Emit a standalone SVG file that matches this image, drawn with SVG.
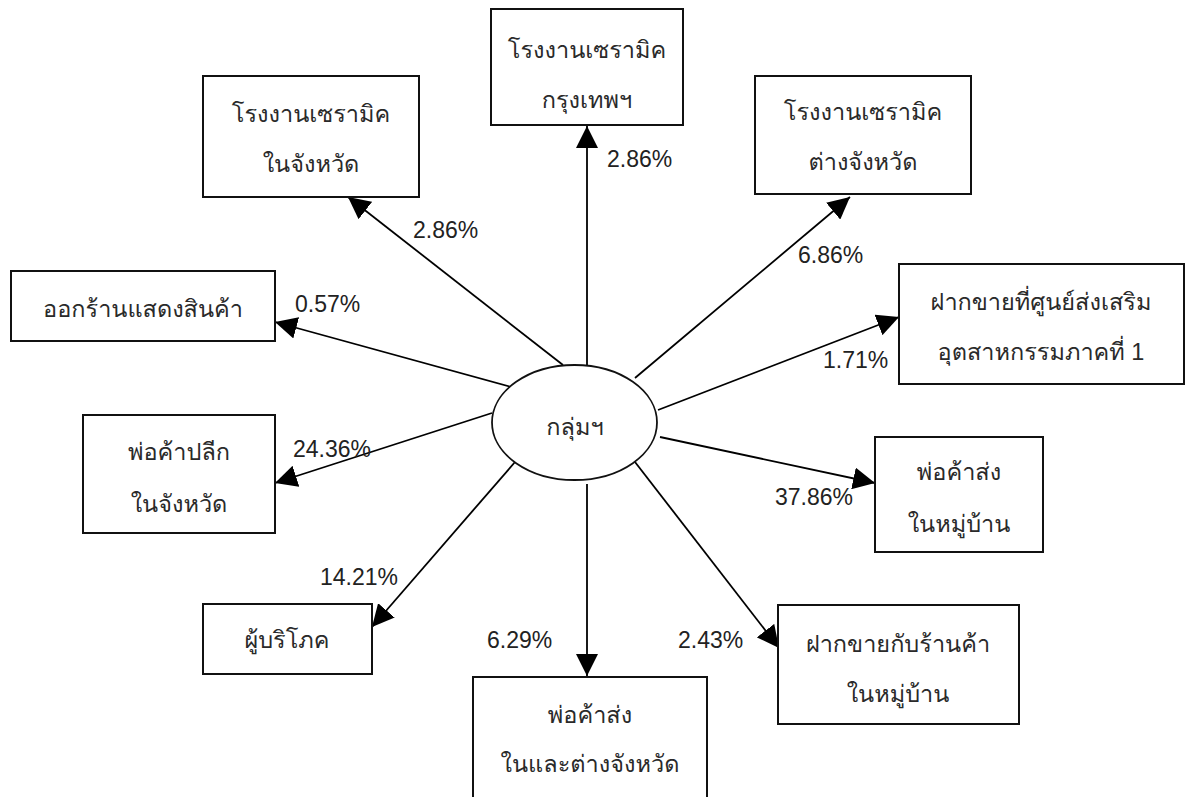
<svg xmlns="http://www.w3.org/2000/svg" width="1186" height="797" viewBox="0 0 1186 797">
<defs>
<style>
.box{fill:#fff;stroke:#111;stroke-width:2}
.t{font-family:"Liberation Sans","Loma","Garuda","Noto Sans Thai Looped","Noto Sans Thai","Noto Sans","DejaVu Sans",sans-serif;font-size:23.5px;fill:#2a2a2a;text-anchor:middle}
.p{font-family:"Liberation Sans",Arial,sans-serif;font-size:23px;fill:#222}
.c{stroke:#000;stroke-width:1.8;fill:none;marker-end:url(#ah)}
</style>
<marker id="ah" markerUnits="userSpaceOnUse" markerWidth="22" markerHeight="22" refX="22" refY="11" orient="auto" viewBox="0 0 22 22">
<path d="M0,0 L22,11 L0,22 z" fill="#000"/>
</marker>
</defs>
<rect width="1186" height="797" fill="#fff"/>
<g id="connectors">
<line class="c" x1="587" y1="366" x2="587" y2="126"/>
<line class="c" x1="563" y1="365" x2="348" y2="197"/>
<line class="c" x1="635" y1="378" x2="850" y2="197"/>
<line class="c" x1="515" y1="388" x2="275" y2="322"/>
<line class="c" x1="658" y1="410" x2="899" y2="317"/>
<line class="c" x1="492" y1="413" x2="275" y2="483"/>
<line class="c" x1="660" y1="437" x2="875" y2="483"/>
<line class="c" x1="515" y1="462" x2="372" y2="627"/>
<line class="c" x1="635" y1="462" x2="779" y2="648"/>
<line class="c" x1="587" y1="484" x2="587" y2="676"/>
</g>
<g id="labels">
<text class="p" x="607" y="167">2.86%</text>
<text class="p" x="413" y="238">2.86%</text>
<text class="p" x="798" y="263">6.86%</text>
<text class="p" x="295" y="312">0.57%</text>
<text class="p" x="823" y="368">1.71%</text>
<text class="p" x="293" y="457">24.36%</text>
<text class="p" x="775" y="505">37.86%</text>
<text class="p" x="320" y="585">14.21%</text>
<text class="p" x="487" y="648">6.29%</text>
<text class="p" x="678" y="648">2.43%</text>
</g>
<g id="center">
<ellipse cx="574.5" cy="422.5" rx="82.5" ry="57.5" fill="#fff" stroke="#111" stroke-width="1.8"/>
<text class="t" x="575" y="435">กลุ่มฯ</text>
</g>
<g id="n-bangkok">
<rect class="box" x="491" y="9" width="192" height="116"/>
<text class="t" x="587" y="58">โรงงานเซรามิค</text>
<text class="t" x="587" y="108">กรุงเทพฯ</text>
</g>
<g id="n-inprov-factory">
<rect class="box" x="203" y="76" width="216" height="121"/>
<text class="t" x="311" y="122">โรงงานเซรามิค</text>
<text class="t" x="311" y="172">ในจังหวัด</text>
</g>
<g id="n-outprov-factory">
<rect class="box" x="755" y="76" width="216" height="118"/>
<text class="t" x="863" y="120">โรงงานเซรามิค</text>
<text class="t" x="863" y="170">ต่างจังหวัด</text>
</g>
<g id="n-exhibit">
<rect class="box" x="11" y="271" width="264" height="70"/>
<text class="t" x="143" y="317">ออกร้านแสดงสินค้า</text>
</g>
<g id="n-center-promo">
<rect class="box" x="899" y="264" width="285" height="120"/>
<text class="t" x="1041" y="310">ฝากขายที่ศูนย์ส่งเสริม</text>
<text class="t" x="1041" y="360">อุตสาหกรรมภาคที่ 1</text>
</g>
<g id="n-retail">
<rect class="box" x="83" y="415" width="192" height="118"/>
<text class="t" x="179" y="460">พ่อค้าปลีก</text>
<text class="t" x="179" y="512">ในจังหวัด</text>
</g>
<g id="n-wholesale-village">
<rect class="box" x="875" y="437" width="168" height="115"/>
<text class="t" x="959" y="480">พ่อค้าส่ง</text>
<text class="t" x="959" y="532">ในหมู่บ้าน</text>
</g>
<g id="n-consumer">
<rect class="box" x="203" y="604" width="169" height="70"/>
<text class="t" x="287" y="648">ผู้บริโภค</text>
</g>
<g id="n-shop-village">
<rect class="box" x="778" y="605" width="241" height="119"/>
<text class="t" x="898" y="652">ฝากขายกับร้านค้า</text>
<text class="t" x="898" y="702">ในหมู่บ้าน</text>
</g>
<g id="n-wholesale-prov">
<rect class="box" x="473" y="677" width="234" height="130"/>
<text class="t" x="590" y="723">พ่อค้าส่ง</text>
<text class="t" x="590" y="772">ในและต่างจังหวัด</text>
</g>
</svg>
